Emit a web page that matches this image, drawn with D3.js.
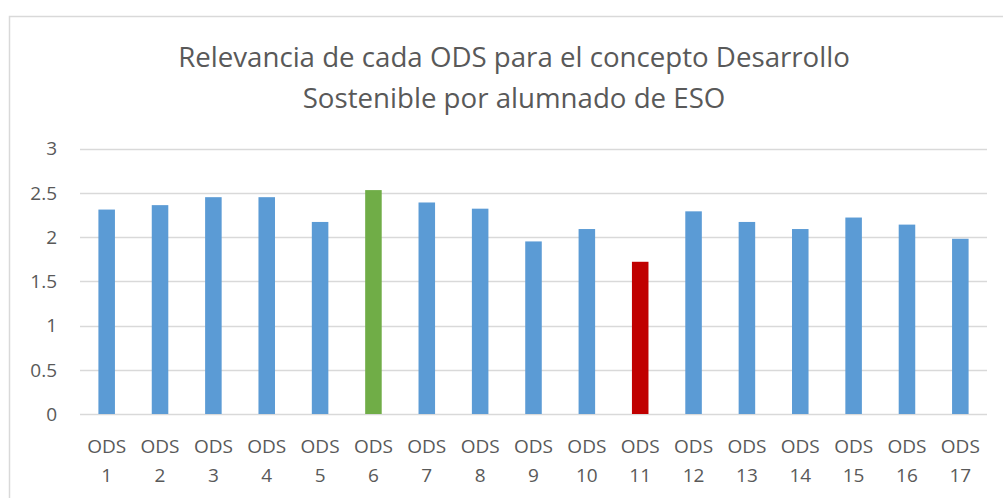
<!DOCTYPE html>
<html>
<head>
<meta charset="utf-8">
<script src="https://cdn.jsdelivr.net/npm/d3@7"></script>
<style>
html,body{margin:0;padding:0;background:#fff;overflow:hidden;}
svg{display:block;}
</style>
</head>
<body>
<svg id="chart" width="1003" height="498"></svg>
<script>
const categories = ["ODS 1","ODS 2","ODS 3","ODS 4","ODS 5","ODS 6","ODS 7","ODS 8","ODS 9","ODS 10","ODS 11","ODS 12","ODS 13","ODS 14","ODS 15","ODS 16","ODS 17"];
const values = [2.31,2.36,2.45,2.45,2.17,2.53,2.39,2.32,1.95,2.09,1.72,2.29,2.17,2.09,2.22,2.14,1.98];
const barColors = ["#5B9BD5","#5B9BD5","#5B9BD5","#5B9BD5","#5B9BD5","#70AD47","#5B9BD5","#5B9BD5","#5B9BD5","#5B9BD5","#C00000","#5B9BD5","#5B9BD5","#5B9BD5","#5B9BD5","#5B9BD5","#5B9BD5"];
const yTicks = [0,0.5,1,1.5,2,2.5,3];
const titleLines = ["Relevancia de cada ODS para el concepto Desarrollo","Sostenible por alumnado de ESO"];

const svg = d3.select("#chart");
const font = "'Open Sans', 'Noto Sans', sans-serif";
const textColor = "#595959";

// chart border
svg.append("rect").attr("x",9.5).attr("y",16.5).attr("width",1010).attr("height",500)
  .attr("fill","none").attr("stroke","#d9d9d9").attr("stroke-width",1.5);

const x = d3.scaleBand().domain(categories).range([80,987]).paddingInner(0).paddingOuter(0);
const y = d3.scaleLinear().domain([0,3]).range([414,148.5]);

// gridlines
svg.append("g").selectAll("line").data(yTicks).join("line")
  .attr("x1",80).attr("x2",987)
  .attr("y1",d=>Math.round(y(d))+0.5).attr("y2",d=>Math.round(y(d))+0.5)
  .attr("stroke","#d9d9d9").attr("stroke-width",1.4);

// y labels
svg.append("g").selectAll("text").data(yTicks).join("text")
  .attr("x",57).attr("y",d=>y(d)).attr("dy","0.36em")
  .attr("text-anchor","end").attr("font-family",font).attr("font-size",19)
  .attr("fill",textColor).text(d=>String(d));

// bars
const frac = 0.31;
const bw = x.bandwidth()*frac;
svg.append("g").selectAll("rect").data(values).join("rect")
  .attr("x",(d,i)=>x(categories[i])+(x.bandwidth()-bw)/2)
  .attr("y",d=>y(d))
  .attr("width",bw)
  .attr("height",d=>y(0)-y(d))
  .attr("fill",(d,i)=>barColors[i]);

// x labels
const xl = svg.append("g").selectAll("text").data(categories).join("text")
  .attr("text-anchor","middle").attr("font-family",font).attr("font-size",19)
  .attr("fill",textColor);
xl.each(function(c){
  const parts = c.split(" ");
  const t = d3.select(this);
  const cx = x(c)+x.bandwidth()/2;
  t.append("tspan").attr("x",cx).attr("y",453).text(parts[0]);
  t.append("tspan").attr("x",cx).attr("y",482).text(parts[1]);
});

// title
const title = svg.append("text").attr("text-anchor","middle").attr("font-family",font)
  .attr("font-size",24).attr("fill",textColor);
title.append("tspan").attr("x",514).attr("y",67).text(titleLines[0]);
title.append("tspan").attr("x",514).attr("y",108).text(titleLines[1]);
const w = title.select("tspan").node().getComputedTextLength();
const fs = 24*672/w;
title.attr("font-size",fs);
</script>
</body>
</html>
